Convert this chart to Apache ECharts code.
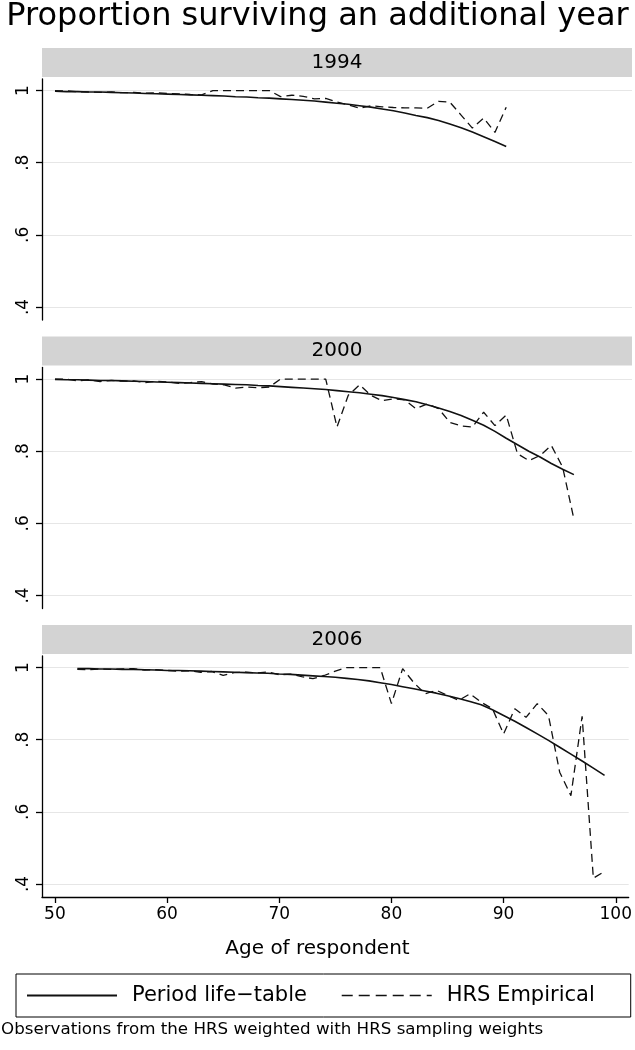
<!DOCTYPE html>
<html>
<head>
<meta charset="utf-8">
<title>Proportion surviving an additional year</title>
<script src="https://cdn.jsdelivr.net/npm/echarts@6.0.0/dist/echarts.min.js"></script>
<style>
html, body { margin: 0; padding: 0; background: #fff; }
#main { width: 635px; height: 1050px; }
</style>
</head>
<body>
<div id="main"></div>
<script>
// ages on the x axis
var ages = [50, 51, 52, 53, 54, 55, 56, 57, 58, 59,
            60, 61, 62, 63, 64, 65, 66, 67, 68, 69,
            70, 71, 72, 73, 74, 75, 76, 77, 78, 79,
            80, 81, 82, 83, 84, 85, 86, 87, 88, 89,
            90, 91, 92, 93, 94, 95, 96, 97, 98, 99];

var panelYears = ['1994', '2000', '2006'];
var panelStartAge = [50, 50, 52];
var xTicks = [50, 60, 70, 80, 90, 100];
var yTicks = [0.4, 0.6, 0.8, 1];
var seriesNames = ['Period life\u2212table', 'HRS Empirical'];

// 1994, ages 50-90
var lifeTable1994 = [0.998, 0.997, 0.997, 0.996, 0.996, 0.995, 0.994, 0.993, 0.992, 0.991,
                     0.990, 0.989, 0.988, 0.987, 0.986, 0.985, 0.983, 0.982, 0.980, 0.979,
                     0.977, 0.975, 0.973, 0.971, 0.968, 0.965, 0.962, 0.958, 0.954, 0.949,
                     0.944, 0.938, 0.931, 0.925, 0.917, 0.907, 0.897, 0.885, 0.872, 0.859,
                     0.845];
var hrs1994 = [1.000, 0.999, 0.997, 0.996, 0.995, 0.996, 0.994, 0.995, 0.993, 0.994,
               0.992, 0.991, 0.989, 0.988, 1.000, 1.000, 1.000, 1.000, 1.000, 1.000,
               0.983, 0.987, 0.984, 0.977, 0.978, 0.968, 0.960, 0.951, 0.958, 0.955,
               0.953, 0.952, 0.952, 0.951, 0.970, 0.968, 0.932, 0.896, 0.924, 0.884,
               0.954];

// 2000, ages 50-96
var lifeTable2000 = [0.999, 0.998, 0.998, 0.997, 0.996, 0.996, 0.995, 0.994, 0.993, 0.992,
                     0.991, 0.990, 0.989, 0.988, 0.987, 0.986, 0.985, 0.984, 0.982, 0.981,
                     0.979, 0.977, 0.975, 0.973, 0.971, 0.968, 0.965, 0.962, 0.958, 0.954,
                     0.949, 0.943, 0.937, 0.929, 0.920, 0.910, 0.899, 0.886, 0.872, 0.855,
                     0.836, 0.818, 0.800, 0.784, 0.766, 0.750, 0.735];
var hrs2000 = [1.000, 1.000, 0.995, 0.998, 0.993, 0.996, 0.994, 0.995, 0.990, 0.994,
               0.992, 0.988, 0.990, 0.993, 0.986, 0.984, 0.975, 0.978, 0.976, 0.978,
               1.000, 1.000, 1.000, 1.000, 1.000, 0.867, 0.955, 0.984, 0.955, 0.940,
               0.945, 0.942, 0.918, 0.931, 0.918, 0.880, 0.870, 0.867, 0.908, 0.871,
               0.900, 0.793, 0.774, 0.788, 0.816, 0.756, 0.612];

// 2006, ages 52-99
var lifeTable2006 = [0.997, 0.997, 0.996, 0.996, 0.995, 0.995, 0.994, 0.993,
                     0.992, 0.992, 0.991, 0.990, 0.989, 0.988, 0.987, 0.986, 0.985, 0.984,
                     0.982, 0.981, 0.979, 0.977, 0.975, 0.973, 0.970, 0.967, 0.963, 0.958,
                     0.953, 0.947, 0.941, 0.935, 0.929, 0.922, 0.914, 0.906, 0.897, 0.883,
                     0.867, 0.851, 0.834, 0.816, 0.798, 0.779, 0.760, 0.741, 0.721, 0.701];
var hrs2006 = [0.995, 0.994, 0.996, 0.995, 0.996, 0.997, 0.993, 0.994,
               0.992, 0.990, 0.991, 0.987, 0.989, 0.978, 0.986, 0.987, 0.985, 0.988,
               0.980, 0.982, 0.975, 0.969, 0.978, 0.990, 1.000, 1.000, 1.000, 1.000,
               0.900, 0.997, 0.958, 0.927, 0.937, 0.923, 0.909, 0.927, 0.904, 0.886,
               0.816, 0.886, 0.862, 0.900, 0.867, 0.710, 0.645, 0.865, 0.416, 0.435];

var lifeTables = [lifeTable1994, lifeTable2000, lifeTable2006];
var hrsValues = [hrs1994, hrs2000, hrs2006];

var myChart = echarts.init(document.getElementById('main'));

var font = 'DejaVu Sans';
var panelTop = [48, 336.5, 625];
var headerH = 29;
var gridLeft = 42;
var gridWidth = 590;
var gridH = 241;

function pairs(startAge, values) {
    var i0 = ages.indexOf(startAge);
    return values.map(function (v, i) {
        return [ages[i0 + i], v];
    });
}

function yLabel(v) {
    if (v === 1) return '1';
    return String(v).replace('0.', '.');
}

var grids = [], xAxes = [], yAxes = [], series = [], graphics = [];

for (var p = 0; p < 3; p++) {
    var last = p === 2;
    grids.push({
        left: gridLeft,
        width: gridWidth,
        top: panelTop[p] + headerH + 2,
        height: gridH
    });
    xAxes.push({
        type: 'value',
        gridIndex: p,
        min: 48.85,
        max: 101.15,
        axisLine: { show: last, onZero: false, lineStyle: { color: '#000', width: 1.3 } },
        axisTick: { show: last, length: 6, customValues: xTicks, lineStyle: { color: '#000', width: 1.3 } },
        axisLabel: { show: last, customValues: xTicks, margin: 9, fontFamily: font, fontSize: 17, color: '#000' },
        splitLine: { show: false }
    });
    yAxes.push({
        type: 'value',
        gridIndex: p,
        min: 0.364,
        max: 1.032,
        axisLine: { show: true, onZero: false, lineStyle: { color: '#000', width: 1.3 } },
        axisTick: { show: true, length: 6, customValues: yTicks, lineStyle: { color: '#000', width: 1.3 } },
        axisLabel: { customValues: yTicks, rotate: 90, margin: 10, formatter: yLabel,
                     fontFamily: font, fontSize: 17, color: '#000' },
        splitLine: { show: true, lineStyle: { color: '#e6e6e6', width: 1.2 } }
    });
    series.push({
        name: seriesNames[0],
        type: 'line',
        xAxisIndex: p,
        yAxisIndex: p,
        symbol: 'none',
        lineStyle: { color: '#111', width: 1.6, type: 'solid' },
        itemStyle: { color: '#111' },
        data: pairs(panelStartAge[p], lifeTables[p])
    });
    series.push({
        name: seriesNames[1],
        type: 'line',
        xAxisIndex: p,
        yAxisIndex: p,
        symbol: 'none',
        lineStyle: { color: '#111', width: 1.3, type: [8, 5] },
        itemStyle: { color: '#111' },
        data: pairs(panelStartAge[p], hrsValues[p])
    });
    // grey strip with the year
    graphics.push({
        type: 'rect',
        shape: { x: gridLeft, y: panelTop[p], width: gridWidth, height: headerH },
        style: { fill: '#d3d3d3' },
        silent: true
    });
    graphics.push({
        type: 'text',
        x: gridLeft + gridWidth / 2,
        y: panelTop[p] + headerH / 2,
        style: { text: panelYears[p], fill: '#000', font: '20px "DejaVu Sans"',
                 textAlign: 'center', textVerticalAlign: 'middle' },
        silent: true
    });
}

option = {
    animation: false,
    backgroundColor: '#fff',
    title: [
        {
            text: 'Proportion surviving an additional year',
            left: 'center',
            top: 1,
            padding: 0,
            textStyle: { fontFamily: font, fontSize: 32, fontWeight: 'normal', color: '#000' }
        },
        {
            text: 'Age of respondent',
            left: 'center',
            top: 939,
            padding: 0,
            textStyle: { fontFamily: font, fontSize: 20, fontWeight: 'normal', color: '#000' }
        },
        {
            text: 'Observations from the HRS weighted with HRS sampling weights',
            left: 1,
            top: 1021,
            padding: 0,
            textStyle: { fontFamily: font, fontSize: 16.7, fontWeight: 'normal', color: '#000' }
        }
    ],
    legend: {
        data: [
            { name: seriesNames[0] },
            { name: seriesNames[1], lineStyle: { type: [11, 6], width: 1.6 } }
        ],
        left: 16,
        top: 974,
        orient: 'horizontal',
        itemWidth: 90,
        itemHeight: 14,
        itemGap: 34,
        padding: [11, 36, 11, 10],
        borderColor: '#000',
        borderWidth: 1,
        selectedMode: false,
        itemStyle: { opacity: 0 },
        textStyle: { fontFamily: font, fontSize: 21, color: '#000', padding: [0, 0, 0, 10] }
    },
    grid: grids,
    xAxis: xAxes,
    yAxis: yAxes,
    series: series,
    graphic: graphics
};

myChart.setOption(option);
</script>
</body>
</html>
